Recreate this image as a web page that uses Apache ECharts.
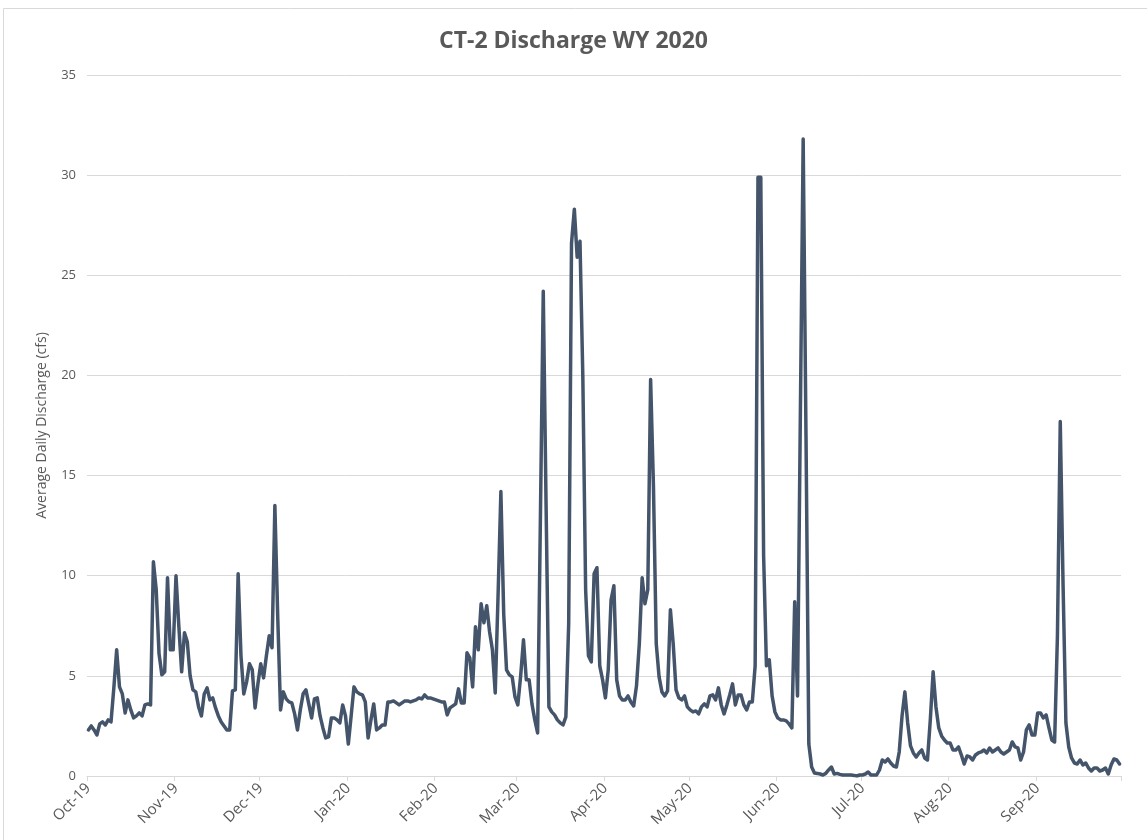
<!DOCTYPE html>
<html>
<head>
<meta charset="utf-8">
<script src="https://cdn.jsdelivr.net/npm/echarts@6/dist/echarts.min.js"></script>
<style>
html,body{margin:0;padding:0;background:#ffffff;}
#chart{width:1147px;height:840px;}
</style>
</head>
<body>
<div id="chart"></div>
<script>
// Tick labels (month starts) and the year/month for each block of daily values
const tickLabels = ['Oct-19','Nov-19','Dec-19','Jan-20','Feb-20','Mar-20','Apr-20','May-20','Jun-20','Jul-20','Aug-20','Sep-20'];
const monthYears = [[2019,10],[2019,11],[2019,12],[2020,1],[2020,2],[2020,3],[2020,4],[2020,5],[2020,6],[2020,7],[2020,8],[2020,9]];

// Average daily discharge (cfs), one value per day
const oct19 = [2.3,2.5,2.3,2.05,2.6,2.7,2.55,2.8,2.7,4.4,6.3,4.45,4.1,3.15,3.8,3.3,2.9,3.0,3.15,3.0,3.55,3.6,3.55,10.7,9.3,6.1,5.05,5.2,9.9,6.3,6.3];
const nov19 = [10.0,7.5,5.2,7.15,6.7,5.0,4.3,4.2,3.45,3.0,4.1,4.4,3.8,3.9,3.4,3.0,2.7,2.5,2.3,2.3,4.25,4.3,10.1,6.0,4.1,4.7,5.6,5.3,3.4,4.6];
const dec19 = [5.6,4.9,6.0,7.0,6.4,13.5,8.0,3.3,4.2,3.85,3.7,3.65,3.1,2.3,3.3,4.1,4.3,3.6,2.9,3.85,3.9,3.0,2.4,1.9,1.95,2.9,2.9,2.8,2.65,3.55,3.0];
const jan20 = [1.6,3.0,4.45,4.2,4.1,4.05,3.7,1.9,2.8,3.6,2.3,2.4,2.55,2.55,3.7,3.7,3.75,3.65,3.55,3.65,3.75,3.75,3.7,3.75,3.8,3.9,3.85,4.05,3.9,3.9,3.85];
const feb20 = [3.8,3.75,3.7,3.7,3.05,3.4,3.5,3.6,4.35,3.65,3.65,6.15,5.9,4.45,7.45,6.3,8.6,7.65,8.5,7.2,6.3,4.15,9.0,14.2,8.1,5.3,5.05,4.95,3.95];
const mar20 = [3.55,5.0,6.8,4.8,4.8,3.6,2.8,2.15,13.0,24.2,13.5,3.45,3.2,3.05,2.8,2.65,2.55,2.95,7.6,26.6,28.3,25.9,26.7,20.0,9.3,6.0,5.7,10.1,10.4,5.5,4.8];
const apr20 = [3.9,5.3,8.8,9.5,4.8,4.0,3.8,3.8,4.0,3.7,3.5,4.5,6.6,9.9,8.6,9.3,19.8,14.5,6.6,4.95,4.2,4.0,4.25,8.3,6.6,4.3,3.9,3.8,4.0,3.45];
const may20 = [3.3,3.2,3.25,3.1,3.45,3.6,3.45,4.0,4.05,3.8,4.4,3.55,3.1,3.55,4.05,4.6,3.55,4.05,4.05,3.55,3.3,3.7,3.7,5.5,29.9,29.9,11.0,5.5,5.8,4.0,3.2];
const jun20 = [2.9,2.8,2.8,2.75,2.6,2.4,8.7,4.0,18.0,31.8,17.0,1.6,0.45,0.15,0.13,0.1,0.05,0.13,0.3,0.45,0.1,0.13,0.08,0.05,0.05,0.05,0.05,0.03,0.0,0.05];
const jul20 = [0.05,0.1,0.2,0.05,0.05,0.05,0.3,0.8,0.7,0.85,0.65,0.5,0.45,1.2,3.0,4.2,2.65,1.5,1.15,0.95,1.15,1.3,0.9,0.8,2.8,5.2,3.45,2.4,2.0,1.8,1.65];
const aug20 = [1.65,1.3,1.3,1.45,1.05,0.6,1.0,0.95,0.8,1.05,1.15,1.2,1.3,1.15,1.4,1.2,1.3,1.4,1.2,1.1,1.2,1.3,1.7,1.45,1.4,0.8,1.2,2.3,2.55,2.05,2.05];
const sep20 = [3.15,3.15,2.9,3.05,2.4,1.8,1.7,7.0,17.7,9.5,2.65,1.45,0.9,0.65,0.6,0.8,0.55,0.65,0.4,0.25,0.4,0.4,0.25,0.3,0.4,0.1,0.55,0.85,0.8,0.6];

const monthlyValues = [oct19,nov19,dec19,jan20,feb20,mar20,apr20,may20,jun20,jul20,aug20,sep20];

function pad(n){ return String(n).padStart(2,'0'); }
const categories = [];
const values = [];
const labelFor = {};
monthlyValues.forEach(function(arr, m){
  const y = monthYears[m][0], mo = monthYears[m][1];
  labelFor[y + '-' + pad(mo) + '-01'] = tickLabels[m];
  arr.forEach(function(v, i){
    categories.push(y + '-' + pad(mo) + '-' + pad(i + 1));
    values.push(v);
  });
});

const isMonthStart = function(index, value){ return /-01$/.test(value); };

const chart = echarts.init(document.getElementById('chart'), null, {renderer:'canvas'});
chart.setOption({
  backgroundColor: '#ffffff',
  animation: false,
  title: {
    text: 'CT-2 Discharge WY 2020',
    left: 'center',
    top: 25,
    textStyle: {fontFamily: 'Open Sans', fontWeight: 'bold', fontSize: 23, color: '#595959'}
  },
  graphic: [{
    type: 'rect',
    shape: {x: 3.5, y: 8.5, width: 1160, height: 850},
    style: {fill: 'none', stroke: '#d9d9d9', lineWidth: 1},
    silent: true
  }],
  grid: {left: 87, right: 26, top: 75, bottom: 64, containLabel: false},
  xAxis: {
    type: 'category',
    data: categories,
    boundaryGap: true,
    axisLine: {show: true, lineStyle: {color: '#d9d9d9', width: 1}},
    axisTick: {show: true, interval: isMonthStart, length: 5, lineStyle: {color: '#d9d9d9'}},
    axisLabel: {
      interval: isMonthStart,
      rotate: 45,
      margin: 10,
      color: '#595959',
      fontFamily: 'Open Sans',
      fontSize: 15,
      formatter: function(v){ return labelFor[v] || ''; }
    },
    splitLine: {show: false}
  },
  yAxis: {
    type: 'value',
    min: 0,
    max: 35,
    interval: 5,
    name: 'Average Daily Discharge (cfs)',
    nameLocation: 'middle',
    nameGap: 38,
    nameRotate: 90,
    nameTextStyle: {fontFamily: 'Open Sans', fontSize: 14, color: '#595959'},
    axisLine: {show: false},
    axisTick: {show: false},
    axisLabel: {color: '#595959', fontFamily: 'Open Sans', fontSize: 13, margin: 11},
    splitLine: {lineStyle: {color: '#d9d9d9', width: 1}}
  },
  series: [{
    type: 'line',
    data: values,
    showSymbol: false,
    symbol: 'none',
    smooth: false,
    lineStyle: {color: '#44546a', width: 3.5, join: 'round', cap: 'round'},
    itemStyle: {color: '#44546a'}
  }]
});
</script>
</body>
</html>
